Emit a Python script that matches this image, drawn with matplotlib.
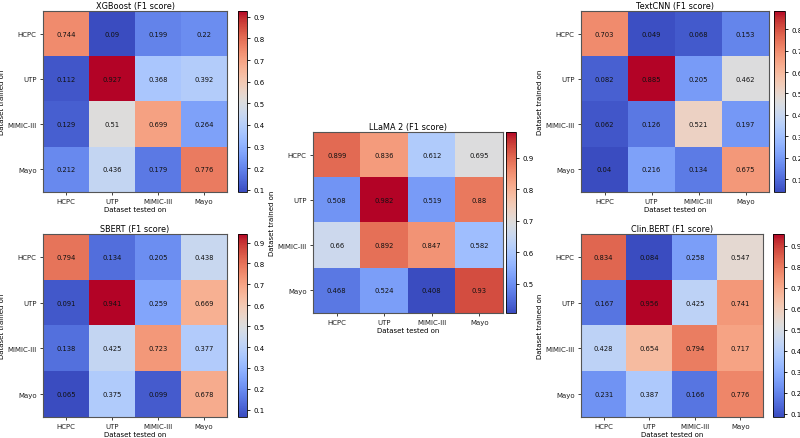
import matplotlib
matplotlib.use("Agg")
import matplotlib.pyplot as plt
import numpy as np

datasets = ["HCPC", "UTP", "MIMIC-III", "Mayo"]

xgboost = [[0.744, 0.09, 0.199, 0.22],
           [0.112, 0.927, 0.368, 0.392],
           [0.129, 0.51, 0.699, 0.264],
           [0.212, 0.436, 0.179, 0.776]]
textcnn = [[0.703, 0.049, 0.068, 0.153],
           [0.082, 0.885, 0.205, 0.462],
           [0.062, 0.126, 0.521, 0.197],
           [0.04, 0.216, 0.134, 0.675]]
llama2 = [[0.899, 0.836, 0.612, 0.695],
          [0.508, 0.982, 0.519, 0.88],
          [0.66, 0.892, 0.847, 0.582],
          [0.468, 0.524, 0.408, 0.93]]
sbert = [[0.794, 0.134, 0.205, 0.438],
         [0.091, 0.941, 0.259, 0.669],
         [0.138, 0.425, 0.723, 0.377],
         [0.065, 0.375, 0.099, 0.678]]
clinbert = [[0.834, 0.084, 0.258, 0.547],
            [0.167, 0.956, 0.425, 0.741],
            [0.428, 0.654, 0.794, 0.717],
            [0.231, 0.387, 0.166, 0.776]]

panels = [
    ("XGBoost (F1 score)", xgboost, (43, 12, 184, 181), (238, 9)),
    ("TextCNN (F1 score)", textcnn, (581, 12, 188, 181), (774, 11)),
    ("LLaMA 2 (F1 score)", llama2, (313, 133, 190, 181), (506, 10)),
    ("SBERT (F1 score)", sbert, (43, 235, 184, 183), (238, 9)),
    ("Clin.BERT (F1 score)", clinbert, (581, 235, 182, 183), (773, 11)),
]

W, H = 800, 439
fig = plt.figure(figsize=(W / 100, H / 100), dpi=100)
fs = 5.0

def rect(x, y, w, h):
    return [x / W, 1 - (y + h) / H, w / W, h / H]

for title, data, (x, y, w, h), (cx, cw) in panels:
    arr = np.array(data)
    ax = fig.add_axes(rect(x, y, w, h))
    im = ax.imshow(arr, cmap="coolwarm", aspect="auto",
                   vmin=arr.min(), vmax=arr.max())
    for i in range(arr.shape[0]):
        for j in range(arr.shape[1]):
            ax.text(j, i, f"{arr[i, j]:g}", ha="center", va="center",
                    fontsize=4.9, color="#111111")
    ax.set_xticks(range(len(datasets)))
    ax.set_xticklabels(datasets, fontsize=fs)
    ax.set_yticks(range(len(datasets)))
    ax.set_yticklabels(datasets, fontsize=fs)
    ax.tick_params(length=2.5, width=0.6, pad=2, colors="#222222")
    ax.set_xlabel("Dataset tested on", fontsize=fs, labelpad=1.5)
    ax.set_ylabel("Dataset trained on", fontsize=fs, labelpad=2)
    ax.set_title(title, fontsize=5.85, pad=2.5)
    for s in ax.spines.values():
        s.set_color("#555555")
        s.set_linewidth(0.8)
    cax = fig.add_axes(rect(cx, y, cw, h))
    cb = fig.colorbar(im, cax=cax)
    cb.ax.tick_params(labelsize=fs, length=2.5, width=0.6, pad=2)
    cb.outline.set_linewidth(0.6)

fig.savefig("out.png", dpi=100)
